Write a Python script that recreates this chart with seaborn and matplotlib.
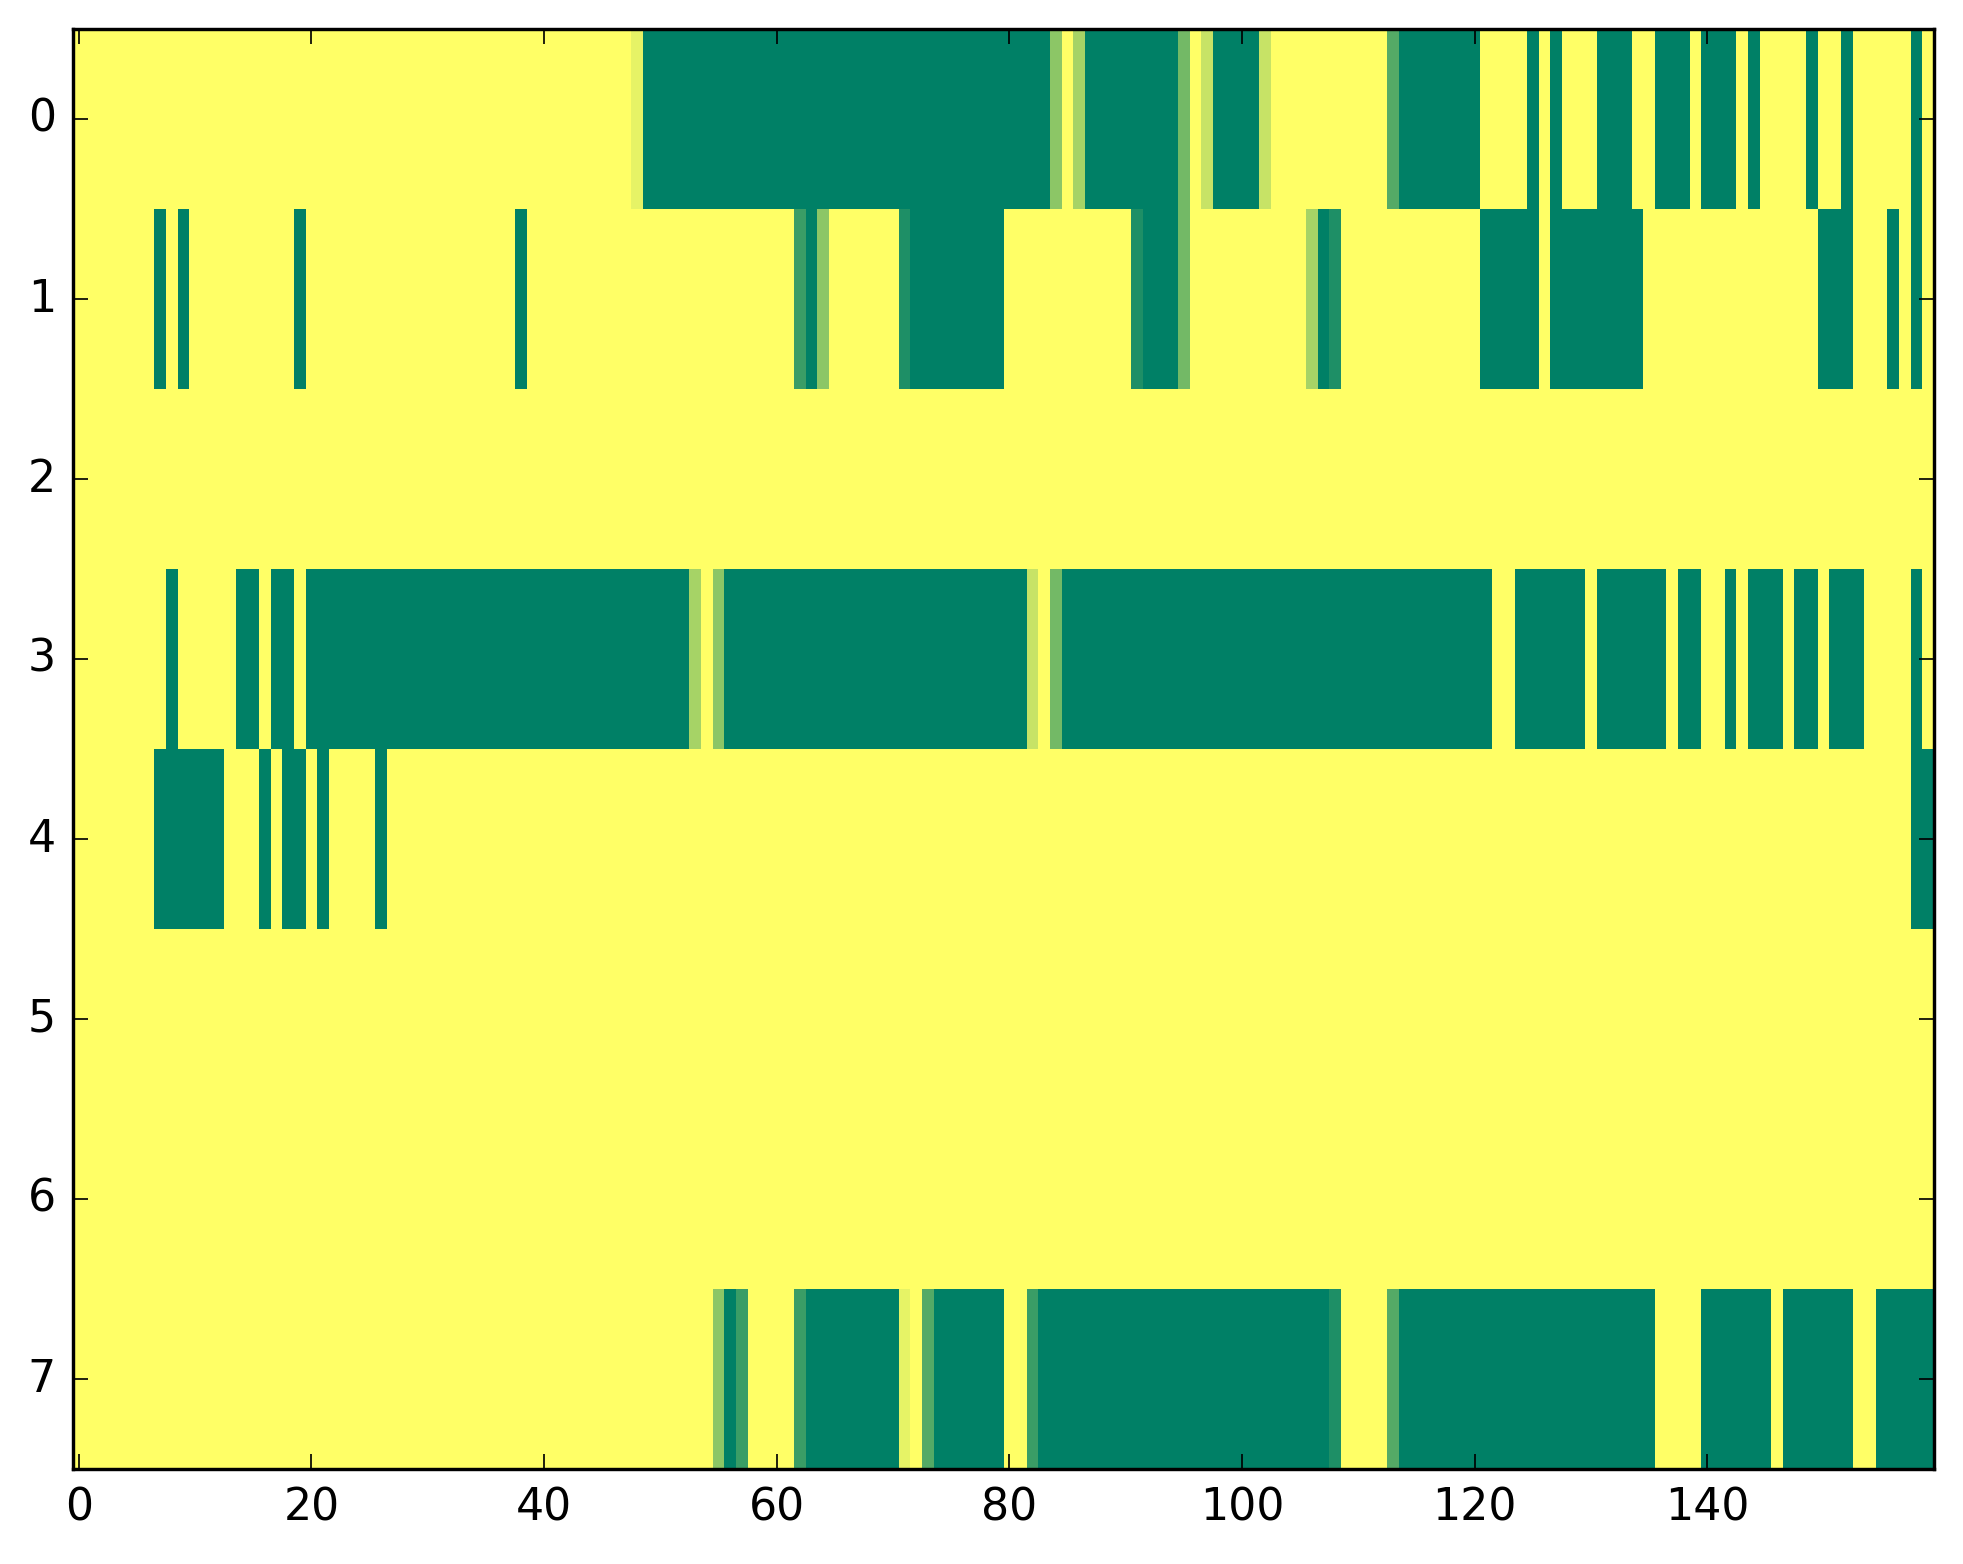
import numpy as np
import pandas as pd
import matplotlib
matplotlib.use("Agg")
import matplotlib.pyplot as plt
import seaborn as sns

# columnas 0..159, filas 0..7 ; cada tramo: (desde, hasta, valor)
n_cols = 160
row_ids = list(range(8))

fila0 = [(48, 48, 0.10), (49, 83, 1.0), (84, 84, 0.45), (86, 86, 0.35),
         (87, 94, 1.0), (95, 95, 0.55), (97, 97, 0.22), (98, 101, 1.0),
         (102, 102, 0.22), (113, 113, 0.67), (114, 120, 1.0), (125, 125, 1.0),
         (127, 127, 1.0), (131, 133, 1.0), (136, 138, 1.0), (140, 142, 1.0),
         (144, 144, 1.0), (149, 149, 1.0), (152, 152, 1.0), (158, 158, 1.0)]
fila1 = [(7, 7, 1.0), (9, 9, 1.0), (19, 19, 1.0), (38, 38, 1.0),
         (62, 62, 0.77), (63, 63, 1.0), (64, 64, 0.45), (71, 71, 0.88),
         (72, 79, 1.0), (91, 91, 0.88), (92, 94, 1.0), (95, 95, 0.55),
         (106, 106, 0.35), (107, 107, 1.0), (108, 108, 0.88), (121, 125, 1.0),
         (127, 134, 1.0), (150, 152, 1.0), (156, 156, 1.0), (158, 158, 1.0)]
fila2 = []
fila3 = [(8, 8, 1.0), (14, 15, 1.0), (17, 18, 1.0), (20, 52, 1.0),
         (53, 53, 0.35), (55, 55, 0.45), (56, 81, 1.0), (82, 82, 0.22),
         (84, 84, 0.55), (85, 121, 1.0), (124, 129, 1.0), (131, 136, 1.0),
         (138, 139, 1.0), (142, 142, 1.0), (144, 146, 1.0), (148, 149, 1.0),
         (151, 153, 1.0), (158, 158, 1.0)]
fila4 = [(7, 12, 1.0), (16, 16, 1.0), (18, 19, 1.0), (21, 21, 1.0),
         (26, 26, 1.0), (158, 159, 1.0)]
fila5 = []
fila6 = []
fila7 = [(55, 55, 0.45), (56, 56, 1.0), (57, 57, 0.77), (62, 62, 0.77),
         (63, 70, 1.0), (71, 71, 0.10), (73, 73, 0.67), (74, 79, 1.0),
         (82, 82, 0.77), (83, 107, 1.0), (108, 108, 0.88), (113, 113, 0.67),
         (114, 135, 1.0), (140, 145, 1.0), (147, 152, 1.0), (155, 159, 1.0)]

xtick_vals = [0, 20, 40, 60, 80, 100, 120, 140]


def armar_matriz(filas):
    m = np.zeros((len(filas), n_cols))
    for i, tramos in enumerate(filas):
        for a, b, v in tramos:
            m[i, a:b + 1] = v
    return pd.DataFrame(m, index=row_ids)


df = armar_matriz([fila0, fila1, fila2, fila3, fila4, fila5, fila6, fila7])

W, H, DPI = 1963, 1564, 245.4
fig = plt.figure(figsize=(W / DPI, H / DPI), dpi=DPI)
ax = fig.add_axes([73 / W, 1 - 1469 / H, 1861 / W, 1440 / H])

sns.heatmap(df, cmap="summer_r", vmin=0, vmax=1, cbar=False, ax=ax,
            linewidths=0, rasterized=True)

ax.set_xlim(0, n_cols)
ax.set_ylim(len(row_ids), 0)
ax.set_xticks(np.array(xtick_vals) + 0.5)
ax.set_xticklabels([str(v) for v in xtick_vals], rotation=0)
ax.set_yticks(np.array(row_ids) + 0.5)
ax.set_yticklabels([str(v) for v in row_ids], rotation=0)
ax.set_xlabel("")
ax.set_ylabel("")

# heatmap quita los bordes, se vuelven a poner
for s in ax.spines.values():
    s.set_visible(True)
    s.set_linewidth(1.0)
    s.set_color("black")

ax.tick_params(direction="in", top=True, right=True, length=4.4, width=0.5,
               labelsize=13, pad=5, colors="black")

fig.savefig("out.png", dpi=DPI)
plt.close(fig)
